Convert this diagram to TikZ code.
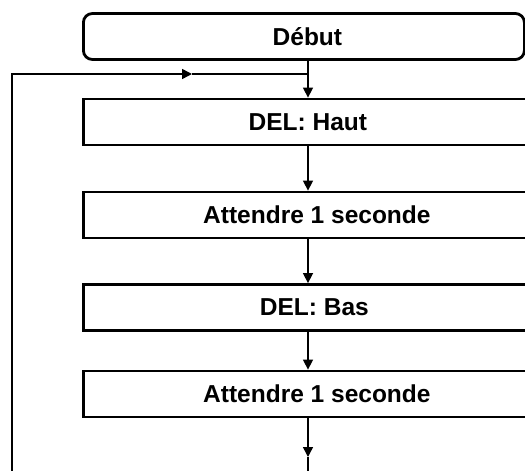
\documentclass[tikz,border=0pt]{standalone}
\usepackage{fontspec}
\setmainfont{Liberation Sans}
\usetikzlibrary{arrows.meta}
\begin{document}
\begin{tikzpicture}[x=1pt,y=-1pt,
  box/.style={draw=black,line width=2.8pt,fill=white,rectangle,minimum height=46pt,inner sep=0pt,
    font=\fontsize{24.5}{28}\selectfont\bfseries,anchor=west},
  startbox/.style={box,rounded corners=9pt},
  conn/.style={draw=black,line width=1.5pt},
  arr/.style={conn,-{Triangle[length=10pt,width=10pt]}}]
\useasboundingbox (0,0) rectangle (525,471);
\clip (0,0) rectangle (525,471);
\node[startbox,minimum width=441pt] (start) at (82,36.5) {\hspace*{7pt}Début};
\node[box,minimum width=449pt] (haut) at (82,122) {DEL: Haut};
\node[box,minimum width=467pt] (att1) at (82,215) {Attendre 1 seconde};
\node[box,minimum width=462pt] (bas) at (82,307.5) {DEL: Bas};
\node[box,minimum width=467pt] (att2) at (82,394) {Attendre 1 seconde};
\coordinate (j) at (308,74);
\coordinate (lt) at (12,74);
\coordinate (lb) at (12,490);
\coordinate (m) at (192,74);
\coordinate (bt) at (308,457);
\coordinate (be) at (308,490);
\draw[arr] (start.south -| j) -- (haut.north -| j);
\draw[arr] (haut.south -| j) -- (att1.north -| j);
\draw[arr] (att1.south -| j) -- (bas.north -| j);
\draw[arr] (bas.south -| j) -- (att2.north -| j);
\draw[arr] (att2.south -| j) -- (bt);
\draw[conn] (bt) -- (be);
\draw[arr] (lb) -- (lt) -- (m);
\draw[conn] (m) -- (j);
\end{tikzpicture}
\end{document}
